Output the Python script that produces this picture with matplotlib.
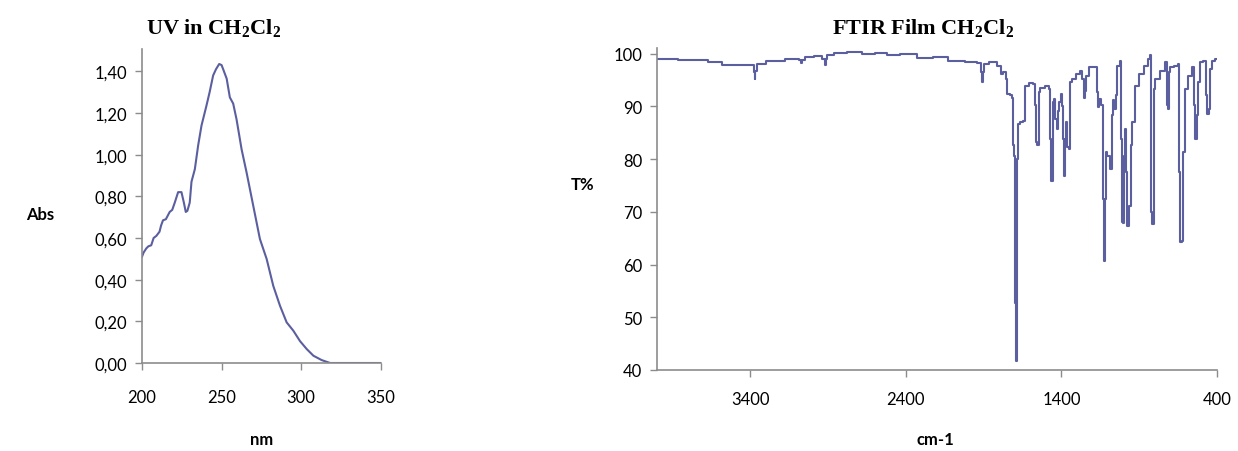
import matplotlib
matplotlib.use("Agg")
import matplotlib.pyplot as plt
from matplotlib.ticker import FuncFormatter

# UV absorbance spectrum (nm, Abs)
uv_nm = [200, 201, 202.7, 204, 205.8, 207.3, 209, 211, 212, 213.2, 215, 217.4, 219,
         220.6, 222.7, 224.8, 226.3, 227.5, 228.5, 230, 231.1, 233.2, 235.3, 237.4,
         240.5, 242.5, 244.7, 246.5, 248.5, 250, 251, 253.2, 255.2, 257.3, 259.4,
         262.6, 265.7, 269.9, 274.1, 278.3, 282.5, 286.7, 290.9, 295.1, 299.3,
         303.5, 307.7, 312.9, 318.2, 325, 335, 350]
uv_abs = [0.51, 0.53, 0.55, 0.56, 0.565, 0.60, 0.61, 0.63, 0.66, 0.685, 0.69, 0.725,
          0.735, 0.77, 0.82, 0.82, 0.77, 0.725, 0.73, 0.77, 0.87, 0.93, 1.045, 1.14,
          1.235, 1.30, 1.38, 1.41, 1.435, 1.43, 1.41, 1.365, 1.275, 1.245, 1.17,
          1.025, 0.915, 0.755, 0.595, 0.50, 0.37, 0.275, 0.195, 0.155, 0.105,
          0.067, 0.035, 0.014, 0.0, 0.0, 0.0, 0.0]

# FTIR transmittance spectrum (cm-1, T%)
ir_wn = [4000, 3724, 3616, 3552, 3385, 3374, 3370, 3364, 3349, 3254, 3102, 3075, 3070,
         3062, 3030, 2952, 2925, 2920, 2912, 2899, 2824, 2738, 2631, 2560, 2480, 2395,
         2267, 2180, 2074, 1967, 1924, 1910, 1907, 1900, 1892, 1838, 1796, 1785, 1763,
         1753, 1742, 1720, 1714, 1713, 1699, 1697, 1690, 1689, 1688, 1686, 1682, 1673,
         1656, 1640, 1624, 1592, 1571, 1564, 1560, 1549, 1543, 1527, 1485, 1474, 1468,
         1463, 1452, 1442, 1435, 1427, 1420, 1410, 1399, 1393, 1388, 1382, 1371, 1367,
         1356, 1350, 1346, 1324, 1292, 1271, 1260, 1254, 1246, 1239, 1207, 1179, 1170,
         1164, 1150, 1136, 1127, 1125, 1116, 1110, 1099, 1077, 1074, 1068, 1060, 1045,
         1035, 1018, 1013, 1007, 1001, 992, 985, 981, 971, 960, 949, 939, 917, 885,
         853, 832, 827, 823, 821, 810, 806, 789, 746, 729, 720, 714, 707, 692, 660,
         645, 643, 627, 622, 617, 595, 574, 553, 542, 535, 527, 520, 498, 476, 470,
         461, 448, 439, 424, 400]
ir_t = [99.0, 98.8, 98.4, 97.9, 97.9, 96.5, 95.2, 96.8, 98.1, 98.7, 99.0, 98.9, 98.2,
        98.9, 99.3, 99.6, 99.0, 97.9, 99.0, 99.8, 100.2, 100.3, 100.0, 100.2, 99.8,
        100.0, 99.2, 99.4, 98.7, 98.4, 98.3, 96.5, 94.6, 96.5, 98.1, 98.4, 97.7, 96.2,
        96.6, 95.2, 92.4, 92.1, 91.7, 82.6, 80.7, 52.8, 50.3, 41.8, 50.3, 77.5, 80.0,
        86.7, 87.0, 87.2, 93.9, 94.5, 94.3, 90.2, 83.2, 82.7, 92.7, 93.6, 93.9, 93.3,
        83.8, 75.9, 90.8, 91.4, 87.6, 85.7, 89.2, 90.8, 92.4, 90.0, 83.8, 76.9, 83.8,
        87.0, 82.3, 82.0, 94.6, 95.2, 96.2, 96.8, 95.2, 91.7, 93.0, 95.8, 97.4, 97.4,
        92.7, 89.9, 91.5, 90.2, 72.4, 60.7, 72.4, 81.3, 80.7, 78.1, 88.3, 91.2, 89.5,
        92.1, 97.7, 98.7, 83.8, 68.0, 67.9, 80.7, 85.7, 77.5, 67.4, 71.2, 82.6, 87.0,
        93.9, 96.2, 97.7, 99.0, 99.8, 95.2, 69.9, 67.7, 93.3, 95.2, 96.8, 98.5, 90.2,
        89.6, 96.5, 97.4, 97.7, 98.1, 77.5, 64.2, 64.5, 81.3, 93.3, 95.8, 97.4, 90.2,
        83.8, 88.3, 94.6, 98.4, 98.7, 92.1, 88.6, 89.5, 97.1, 98.7, 99.0]

uv_xticks = [200, 250, 300, 350]
uv_yticks = [0.0, 0.2, 0.4, 0.6, 0.8, 1.0, 1.2, 1.4]
ir_xticks = [3400, 2400, 1400, 400]
ir_yticks = [40, 50, 60, 70, 80, 90, 100]

LINE = "#5b5f9f"
AXIS = "#8c8c8c"
TICK_FONT = "Lato"
TITLE_FONT = "Liberation Serif"

plt.rcParams["mathtext.default"] = "regular"

fig = plt.figure(figsize=(12.38, 4.52), dpi=100)


def style_axes(ax, xpad):
    for side in ("top", "right"):
        ax.spines[side].set_visible(False)
    for side in ("left", "bottom"):
        ax.spines[side].set_color(AXIS)
        ax.spines[side].set_linewidth(1.2)
    ax.tick_params(direction="out", length=5, width=1.0, color=AXIS, labelsize=12)
    ax.tick_params(axis="y", pad=5.5)
    ax.tick_params(axis="x", pad=xpad)
    for lab in ax.get_xticklabels() + ax.get_yticklabels():
        lab.set_family(TICK_FONT)


# UV panel
ax1 = fig.add_axes([142 / 1238, 88 / 452, 238.7 / 1238, 314 / 452])
ax1.plot(uv_nm, uv_abs, color=LINE, lw=1.5)
ax1.set_xlim(200, 350)
ax1.set_ylim(0, 1.507)
ax1.set_xticks(uv_xticks)
ax1.set_yticks(uv_yticks)
ax1.yaxis.set_major_formatter(FuncFormatter(lambda v, p: f"{v:.2f}".replace(".", ",")))
style_axes(ax1, 14)

# FTIR panel
ax2 = fig.add_axes([657 / 1238, 81 / 452, 560 / 1238, 322 / 452])
ax2.plot(ir_wn, ir_t, color=LINE, lw=1.5, drawstyle="steps-mid")
ax2.set_xlim(4000, 400)
ax2.set_ylim(40, 101.1)
ax2.set_xticks(ir_xticks)
ax2.set_yticks(ir_yticks)
style_axes(ax2, 10)

# Titles
fig.text(213.5 / 1238, 1 - 28 / 452, "UV in CH$_2$Cl$_2$", ha="center", va="center",
         family=TITLE_FONT, weight="bold", fontsize=16)
fig.text(923 / 1238, 1 - 28 / 452, "FTIR Film CH$_2$Cl$_2$", ha="center", va="center",
         family=TITLE_FONT, weight="bold", fontsize=16)

# Axis titles
fig.text(40 / 1238, 1 - 215 / 452, "Abs", ha="center", va="center",
         family=TICK_FONT, weight="bold", fontsize=12)
fig.text(262 / 1238, 1 - 440 / 452, "nm", ha="center", va="center",
         family=TICK_FONT, weight="bold", fontsize=12)
fig.text(583 / 1238, 1 - 185 / 452, "T%", ha="center", va="center",
         family=TICK_FONT, weight="bold", fontsize=12)
fig.text(935 / 1238, 1 - 440 / 452, "cm-1", ha="center", va="center",
         family=TICK_FONT, weight="bold", fontsize=12)

fig.savefig("out.png", dpi=100, facecolor="white")
